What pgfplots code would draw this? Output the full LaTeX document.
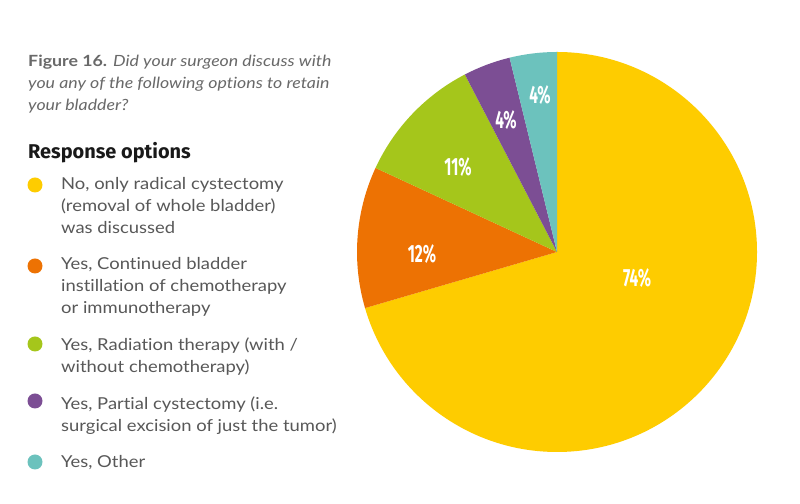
\documentclass[border=0pt]{standalone}
\usepackage{pgfplots}
\pgfplotsset{compat=1.18}
\usepackage{fontspec}
\setmainfont{Lato}[FakeStretch=1.12, Ligatures={NoCommon}]
\newfontfamily\titlefont{Lato}[FakeStretch=1.15, Ligatures={NoCommon}]
\newfontfamily\labfont[FakeStretch=0.62]{Fira Sans}
\newfontfamily\headfont{Fira Sans}
\definecolor{cyellow}{RGB}{254,204,0}
\definecolor{corange}{RGB}{237,114,3}
\definecolor{cgreen}{RGB}{165,198,27}
\definecolor{cpurple}{RGB}{124,78,148}
\definecolor{cteal}{RGB}{108,194,189}
\definecolor{titlegray}{RGB}{105,105,105}
\definecolor{textgray}{RGB}{88,88,88}
\definecolor{headblack}{RGB}{25,25,25}
\begin{document}
\begin{tikzpicture}[x=1bp,y=1bp]
\path[use as bounding box] (0,0) rectangle (800,504);
\fill[white] (0,0) rectangle (800,504);
\begin{axis}[at={(557bp,252bp)}, anchor=origin, scale only axis,
  width=400bp, height=400bp, xmin=-1, xmax=1, ymin=-1, ymax=1,
  hide axis, clip=false]
% start / value / colour / label x / label y
\foreach \s/\v/\c/\lx/\ly in {0/74/cyellow/0.40/-0.13,
                              74/12/corange/-0.675/-0.01,
                              86/11/cgreen/-0.495/0.425,
                              97/4/cpurple/-0.255/0.66,
                              101/4/cteal/-0.085/0.785}{
  \pgfmathsetmacro\a{90-\s/105*360}
  \pgfmathsetmacro\b{90-(\s+\v)/105*360}
  \pgfmathsetmacro\ca{cos(\a)}
  \pgfmathsetmacro\sa{sin(\a)}
  \edef\doit{\noexpand\fill[\c] (axis cs:0,0) -- (axis cs:\ca,\sa)
     arc[start angle=\a, end angle=\b, radius=1] -- cycle;
    \noexpand\node[text=white, font=\noexpand\labfont\noexpand\bfseries\noexpand\fontsize{25}{25}\noexpand\selectfont]
     at (axis cs:\lx,\ly) {\v\noexpand\%};}
  \doit
}
\end{axis}
% title
\begin{scope}[every node/.style={anchor=base west, inner sep=0pt, text=titlegray, font=\titlefont\fontsize{15.5}{18}\selectfont}]
\node at (28,437) {\textbf{Figure 16.} \textit{Did your surgeon discuss with}};
\node at (28,415) {\textit{you any of the following options to retain}};
\node at (28,393) {\textit{your bladder?}};
\end{scope}
\node[anchor=base west, inner sep=0pt, text=headblack, font=\headfont\bfseries\fontsize{20}{24}\selectfont] at (28,345) {Response options};
% legend
\fill[cyellow] (35,319) circle[radius=7.5];
\fill[corange] (35,238) circle[radius=7.5];
\fill[cgreen] (35,160) circle[radius=7.5];
\fill[cpurple] (35,103) circle[radius=7.5];
\fill[cteal] (35,42) circle[radius=7.5];
\begin{scope}[every node/.style={anchor=base west, inner sep=0pt, text=textgray, font=\fontsize{16.5}{20}\selectfont}]
\node at (61,314) {No, only radical cystectomy};
\node at (61,292) {(removal of whole bladder)};
\node at (61,270) {was discussed};
\node at (61,234) {Yes, Continued bladder};
\node at (61,212) {instillation of chemotherapy};
\node at (61,190) {or immunotherapy};
\node at (61,153) {Yes, Radiation therapy (with /};
\node at (61,131) {without chemotherapy)};
\node at (61,94) {Yes, Partial cystectomy (i.e.};
\node at (61,72) {surgical excision of just the tumor)};
\node at (61,36) {Yes, Other};
\end{scope}
\end{tikzpicture}
\end{document}
